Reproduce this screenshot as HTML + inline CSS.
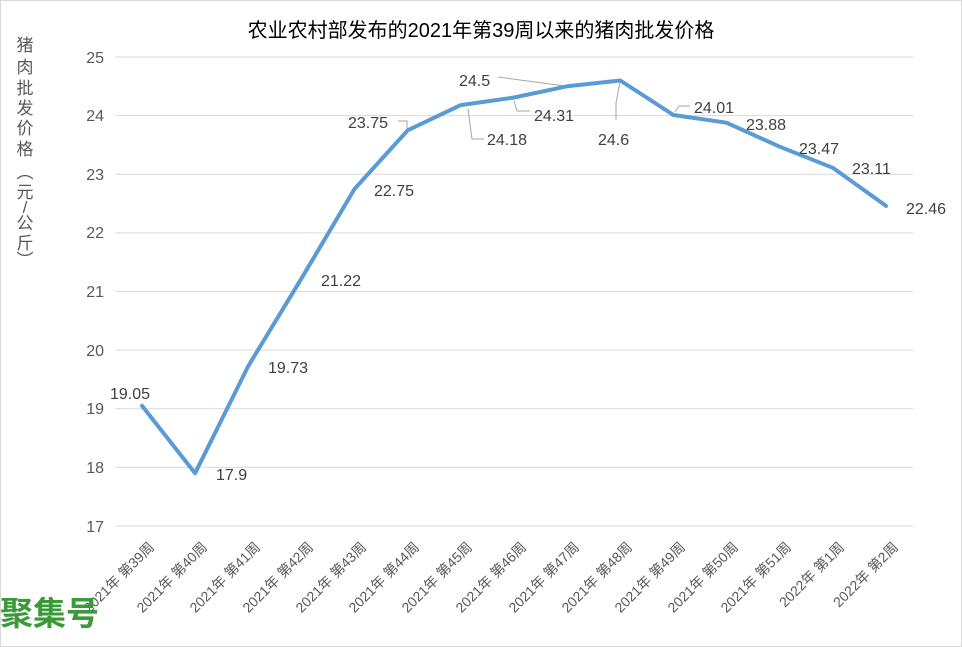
<!DOCTYPE html>
<html><head><meta charset="utf-8"><style>
html,body{margin:0;padding:0;background:#fff}
svg{display:block;font-family:"Liberation Sans","Noto Sans CJK SC",sans-serif}
</style></head><body>
<svg width="962" height="647" viewBox="0 0 962 647">
<rect x="0.5" y="0.5" width="961" height="646" fill="#fff" stroke="#d9d9d9"/>
<text x="481" y="37" font-size="20" text-anchor="middle" fill="#000">农业农村部发布的2021年第39周以来的猪肉批发价格</text>
<g font-size="17" fill="#595959" text-anchor="middle">
<text x="25" y="51">猪</text><text x="25" y="73">肉</text><text x="25" y="94">批</text><text x="25" y="114">发</text><text x="25" y="134">价</text><text x="25" y="155">格</text>
<text x="25" y="178">︵</text><text x="25" y="198">元</text><text x="25" y="213">/</text><text x="25" y="229">公</text><text x="25" y="249">斤</text><text x="25" y="266">︶</text>
</g>
<g stroke="#d9d9d9" stroke-width="1">
<line x1="115" x2="913" y1="57" y2="57"/><line x1="115" x2="913" y1="115.6" y2="115.6"/>
<line x1="115" x2="913" y1="174.3" y2="174.3"/><line x1="115" x2="913" y1="232.9" y2="232.9"/>
<line x1="115" x2="913" y1="291.5" y2="291.5"/><line x1="115" x2="913" y1="350.1" y2="350.1"/>
<line x1="115" x2="913" y1="408.8" y2="408.8"/><line x1="115" x2="913" y1="467.4" y2="467.4"/>
<line x1="115" x2="913" y1="526" y2="526"/>
</g>
<g font-size="16" fill="#595959" text-anchor="end">
<text x="104" y="63">25</text><text x="104" y="121">24</text><text x="104" y="180">23</text><text x="104" y="238">22</text>
<text x="104" y="297">21</text><text x="104" y="356">20</text><text x="104" y="414">19</text><text x="104" y="473">18</text><text x="104" y="532">17</text>
</g>
<g stroke="#a6a6a6" stroke-width="1" fill="none">
<polyline points="398,121 407,121 407,129"/>
<polyline points="468,109 472,139 484,139"/>
<polyline points="514,101 517,111 530,111"/>
<polyline points="498,77 565,86"/>
<polyline points="620,82 616,103 616,120"/>
<polyline points="675,112 679,106 690,106"/>
</g>
<polyline fill="none" stroke="#5b9bd5" stroke-width="4" stroke-linejoin="round" stroke-linecap="round"
points="142,405.8 195.1,473.2 248.3,366 301.4,278.6 354.6,188.9 407.7,130.3 460.8,105.1 514,97.5 567.1,86.3 620.3,80.5 673.4,115 726.5,122.7 779.7,146.7 832.8,167.8 886,205.9"/>
<g font-size="16" fill="#404040">
<text x="110" y="399">19.05</text><text x="216" y="480">17.9</text><text x="268" y="373">19.73</text>
<text x="321" y="286">21.22</text><text x="374" y="196">22.75</text><text x="348" y="128">23.75</text>
<text x="487" y="145">24.18</text><text x="534" y="121">24.31</text><text x="459" y="86">24.5</text>
<text x="598" y="145">24.6</text><text x="694" y="113">24.01</text><text x="746" y="130">23.88</text>
<text x="799" y="154">23.47</text><text x="852" y="174">23.11</text><text x="906" y="214">22.46</text>
</g>
<g font-size="14" fill="#595959" text-anchor="end">
<text transform="translate(155,548) rotate(-45)">2021年 第39周</text>
<text transform="translate(208,548) rotate(-45)">2021年 第40周</text>
<text transform="translate(261,548) rotate(-45)">2021年 第41周</text>
<text transform="translate(314,548) rotate(-45)">2021年 第42周</text>
<text transform="translate(367,548) rotate(-45)">2021年 第43周</text>
<text transform="translate(420,548) rotate(-45)">2021年 第44周</text>
<text transform="translate(473,548) rotate(-45)">2021年 第45周</text>
<text transform="translate(527,548) rotate(-45)">2021年 第46周</text>
<text transform="translate(580,548) rotate(-45)">2021年 第47周</text>
<text transform="translate(633,548) rotate(-45)">2021年 第48周</text>
<text transform="translate(686,548) rotate(-45)">2021年 第49周</text>
<text transform="translate(739,548) rotate(-45)">2021年 第50周</text>
<text transform="translate(792,548) rotate(-45)">2021年 第51周</text>
<text transform="translate(845,548) rotate(-45)">2022年 第1周</text>
<text transform="translate(899,548) rotate(-45)">2022年 第2周</text>
</g>
<text x="0" y="625" font-size="33" font-weight="bold" fill="#3a9a3a">聚集号</text>
</svg>
</body></html>
